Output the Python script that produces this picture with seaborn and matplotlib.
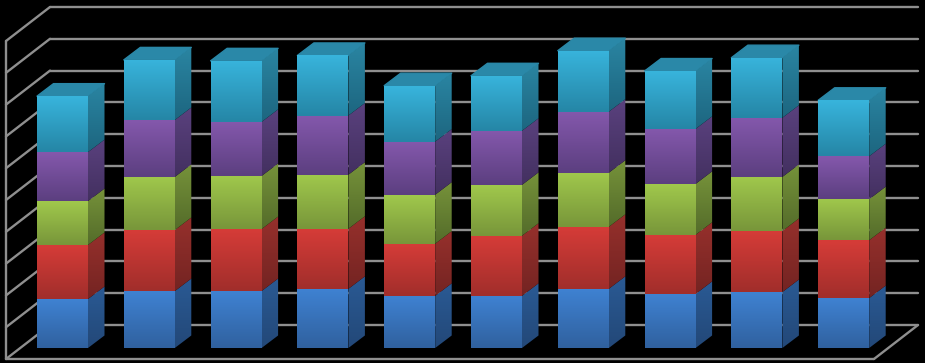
import numpy as np
import pandas as pd
import matplotlib
matplotlib.use("Agg")
import matplotlib.pyplot as plt
from matplotlib.colors import LinearSegmentedColormap
from matplotlib.patches import Polygon
import seaborn as sns

categories = ["1", "2", "3", "4", "5", "6", "7", "8", "9", "10"]
series_a = [15.4, 17.9, 17.9, 18.6, 16.4, 16.4, 18.6, 17.0, 17.6, 15.7]
series_b = [17.0, 19.2, 19.5, 18.9, 16.4, 18.9, 19.5, 18.6, 19.2, 18.2]
series_c = [13.8, 16.7, 16.7, 17.0, 15.4, 16.0, 17.0, 16.0, 17.0, 12.9]
series_d = [15.4, 17.9, 17.0, 18.6, 16.7, 17.0, 19.2, 17.3, 18.6, 13.5]
series_e = [17.6, 18.9, 19.2, 18.9, 17.6, 17.3, 19.2, 18.2, 18.9, 17.6]
grid_values = [0, 10, 20, 30, 40, 50, 60, 70, 80, 90, 100]

front_top = ["#3F82D2", "#D63C38", "#A0C84C", "#8458AC", "#38B4DC"]
front_bot = ["#30619F", "#A12E2B", "#78963A", "#5C3F80", "#2586A6"]
side_top = ["#2A5A94", "#96302C", "#76923A", "#5A417E", "#2A85A2"]
side_bot = ["#234878", "#742422", "#546C2A", "#433060", "#1D6680"]
top_face = "#2A88A8"
grid_col = "#8F8F8F"

PX_X, PX_Y = 86.8, 3.18       # pixels per category / per value unit
X0, Y0 = 62.5, 348.0          # pixel of category 0, value 0
W, H = 925, 363
dx, dy = 16.5 / PX_X, 12.5 / PX_Y     # bar depth in data units
wall_dx, wall_dy = 44.0 / PX_X, 34.0 / PX_Y   # floor depth in data units
wall_front_x, wall_front_y = (6 - X0) / PX_X, (Y0 - 359) / PX_Y
bar_w = 51 / PX_X

sns.set_theme(style="dark", rc={"figure.facecolor": "black", "axes.facecolor": "black"})
fig = plt.figure(figsize=(W / 100, H / 100), dpi=100, facecolor="black")
ax = fig.add_axes([0, 0, 1, 1])


def fill_gradient(poly_xy, c1, c2, z):
    poly = Polygon(poly_xy, closed=True, fc="none", ec="none", zorder=z)
    ax.add_patch(poly)
    xs, ys = zip(*poly_xy)
    cmap = LinearSegmentedColormap.from_list("g", [c1, c2], N=128)
    grad = np.linspace(0, 1, 64).reshape(-1, 1)
    im = ax.imshow(grad, extent=(min(xs), max(xs), min(ys), max(ys)), origin="upper",
                   cmap=cmap, aspect="auto", zorder=z, interpolation="bilinear")
    im.set_clip_path(poly)


# walls and floor
right_x = wall_front_x + wall_dx + (918 - 50) / PX_X
wall_kw = dict(color=grid_col, lw=1.7, solid_capstyle="round", zorder=1)
for g in grid_values:
    ax.plot([wall_front_x, wall_front_x + wall_dx],
            [wall_front_y + g, wall_front_y + wall_dy + g], **wall_kw)
    ax.plot([wall_front_x + wall_dx, right_x], [wall_front_y + wall_dy + g] * 2, **wall_kw)
ax.plot([wall_front_x, wall_front_x], [wall_front_y, wall_front_y + grid_values[-1]], **wall_kw)
ax.plot([wall_front_x, right_x - wall_dx], [wall_front_y, wall_front_y], **wall_kw)
ax.plot([right_x - wall_dx, right_x], [wall_front_y, wall_front_y + wall_dy], **wall_kw)

# stacked bars
all_series = [series_a, series_b, series_c, series_d, series_e]
bottom = np.zeros(len(categories))
for k, vals in enumerate(all_series):
    df = pd.DataFrame({"cat": categories, "val": vals})
    n_before = len(ax.containers)
    sns.barplot(data=df, x="cat", y="val", bottom=bottom, color=front_top[k], saturation=1,
                width=bar_w, linewidth=0, ax=ax, zorder=3, errorbar=None)
    bars = ax.containers[n_before]
    for i, rect in enumerate(bars):
        x0, y0 = rect.get_x(), rect.get_y()
        w, h = rect.get_width(), rect.get_height()
        fill_gradient([(x0, y0), (x0 + w, y0), (x0 + w, y0 + h), (x0, y0 + h)],
                      front_top[k], front_bot[k], 3)
        fill_gradient([(x0 + w, y0), (x0 + w + dx, y0 + dy),
                       (x0 + w + dx, y0 + dy + h), (x0 + w, y0 + h)],
                      side_top[k], side_bot[k], 2.5)
        if k == len(all_series) - 1:
            t = y0 + h
            ax.add_patch(Polygon([(x0, t), (x0 + w, t), (x0 + w + dx, t + dy), (x0 + dx, t + dy)],
                                 closed=True, fc=top_face, ec=top_face, lw=1.0,
                                 joinstyle="round", zorder=2.4))
    bottom = bottom + np.asarray(vals)

ax.set_xlim((0 - X0) / PX_X, (W - X0) / PX_X)
ax.set_ylim((Y0 - H) / PX_Y, Y0 / PX_Y)
ax.axis("off")
fig.savefig("out.png", dpi=100, facecolor="black")
